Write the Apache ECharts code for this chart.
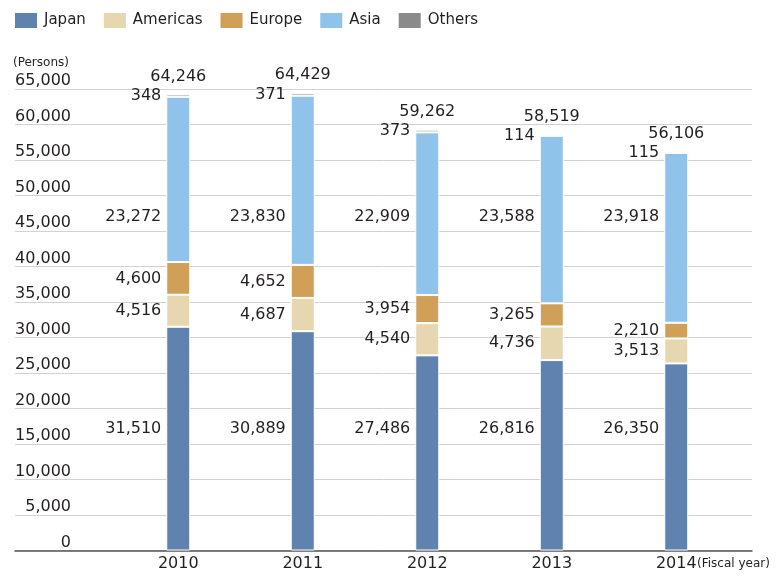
<!DOCTYPE html>
<html>
<head>
<meta charset="utf-8">
<script src="https://cdn.jsdelivr.net/npm/echarts@6/dist/echarts.min.js"></script>
<style>
    html, body { margin: 0; padding: 0; background: #fff; }
    #chart { width: 779px; height: 576px; }
</style>
</head>
<body>
<div id="chart"></div>
<script>
// data (persons, by fiscal year)
var years = ['2010', '2011', '2012', '2013', '2014'];
var japan = [31510, 30889, 27486, 26816, 26350];
var americas = [4516, 4687, 4540, 4736, 3513];
var europe = [4600, 4652, 3954, 3265, 2210];
var asia = [23272, 23830, 22909, 23588, 23918];
var others = [348, 371, 373, 114, 115];
var totals = [64246, 64429, 59262, 58519, 56106];

// layout: rows where the Japan / Asia numbers sit (axis units)
var japanLabelRow = 17100;
var asiaLabelRow = 47000;

var textColor = '#231f20';
var font = 'DejaVu Sans';
var fmt = function (v) { return Number(v).toLocaleString('en-US'); };

var myChart = echarts.init(document.getElementById('chart'), null, { renderer: 'canvas' });

function stackBar(name, data, color, showLabel) {
    return {
        name: name,
        type: 'bar',
        stack: 'all',
        xAxisIndex: 1,
        yAxisIndex: 1,
        barWidth: 24,
        barGap: '-100%',
        data: data,
        itemStyle: { color: color, borderColor: '#fff', borderWidth: 1 },
        label: {
            show: showLabel,
            position: 'left',
            distance: 5,
            color: textColor,
            fontFamily: font,
            fontSize: 16,
            formatter: function (p) { return fmt(p.value); }
        },
        emphasis: { disabled: true }
    };
}

// Japan and Asia numbers are set on fixed rows, not on the segment centres
function rowLabels(values, row) {
    return {
        type: 'scatter',
        xAxisIndex: 1,
        yAxisIndex: 1,
        symbolSize: 0,
        silent: true,
        itemStyle: { opacity: 1 },
        data: values.map(function (v, i) { return [i, row]; }),
        label: {
            show: true,
            position: 'left',
            distance: 17,
            opacity: 1,
            color: textColor,
            fontFamily: font,
            fontSize: 16,
            formatter: function (p) { return fmt(values[p.dataIndex]); }
        }
    };
}

myChart.setOption({
    animation: false,
    legend: {
        left: 13,
        top: 11,
        padding: 0,
        itemWidth: 24,
        itemHeight: 17,
        itemGap: 16,
        icon: 'rect',
        data: ['Japan', 'Americas', 'Europe', 'Asia', { name: 'Others', itemStyle: { color: '#8a8a8a' } }],
        textStyle: { color: textColor, fontFamily: font, fontSize: 15, padding: [0, 0, 0, 1] }
    },
    grid: [
        { left: 15, right: 27, top: 89, bottom: 25.5 },
        { left: 116, right: 40.5, top: 89, bottom: 25.5 }
    ],
    xAxis: [
        {
            gridIndex: 0,
            type: 'value',
            min: 0,
            max: 1,
            axisLine: { show: true, lineStyle: { color: '#555', width: 1.5 } },
            axisTick: { show: false },
            axisLabel: { show: false },
            splitLine: { show: false }
        },
        {
            gridIndex: 1,
            type: 'category',
            data: years,
            axisLine: { show: false },
            axisTick: { show: false },
            axisLabel: { color: textColor, fontFamily: font, fontSize: 16, margin: 5 }
        }
    ],
    yAxis: [
        {
            gridIndex: 0,
            type: 'value',
            min: 0,
            max: 65000,
            interval: 5000,
            axisLine: { show: false },
            axisTick: { show: false },
            splitLine: { lineStyle: { color: '#d2d2d2', width: 1 } },
            axisLabel: {
                inside: true,
                align: 'right',
                verticalAlign: 'bottom',
                margin: 56,
                color: textColor,
                fontFamily: font,
                fontSize: 16,
                formatter: fmt
            }
        },
        { gridIndex: 1, type: 'value', min: 0, max: 65000, show: false }
    ],
    graphic: [
        {
            type: 'text',
            left: 13,
            top: 57,
            style: { text: '(Persons)', fill: textColor, font: '12px "DejaVu Sans"' }
        },
        {
            type: 'text',
            left: 697,
            top: 558,
            style: { text: '(Fiscal year)', fill: textColor, font: '12px "DejaVu Sans"' }
        }
    ],
    series: [
        stackBar('Japan', japan, '#5f82ae', false),
        stackBar('Americas', americas, '#e6d7b0', true),
        stackBar('Europe', europe, '#d09f58', true),
        stackBar('Asia', asia, '#8fc3ea', false),
        stackBar('Others', others, '#a3a3a3', true),
        {
            name: 'Total',
            type: 'bar',
            xAxisIndex: 1,
            yAxisIndex: 1,
            barWidth: 24,
            barGap: '-100%',
            silent: true,
            data: totals,
            itemStyle: { color: 'rgba(0,0,0,0)' },
            label: {
                show: true,
                position: 'top',
                distance: 10,
                color: textColor,
                fontFamily: font,
                fontSize: 16,
                formatter: function (p) { return fmt(p.value); }
            },
            z: 1
        },
        rowLabels(japan, japanLabelRow),
        rowLabels(asia, asiaLabelRow)
    ]
});
</script>
</body>
</html>
